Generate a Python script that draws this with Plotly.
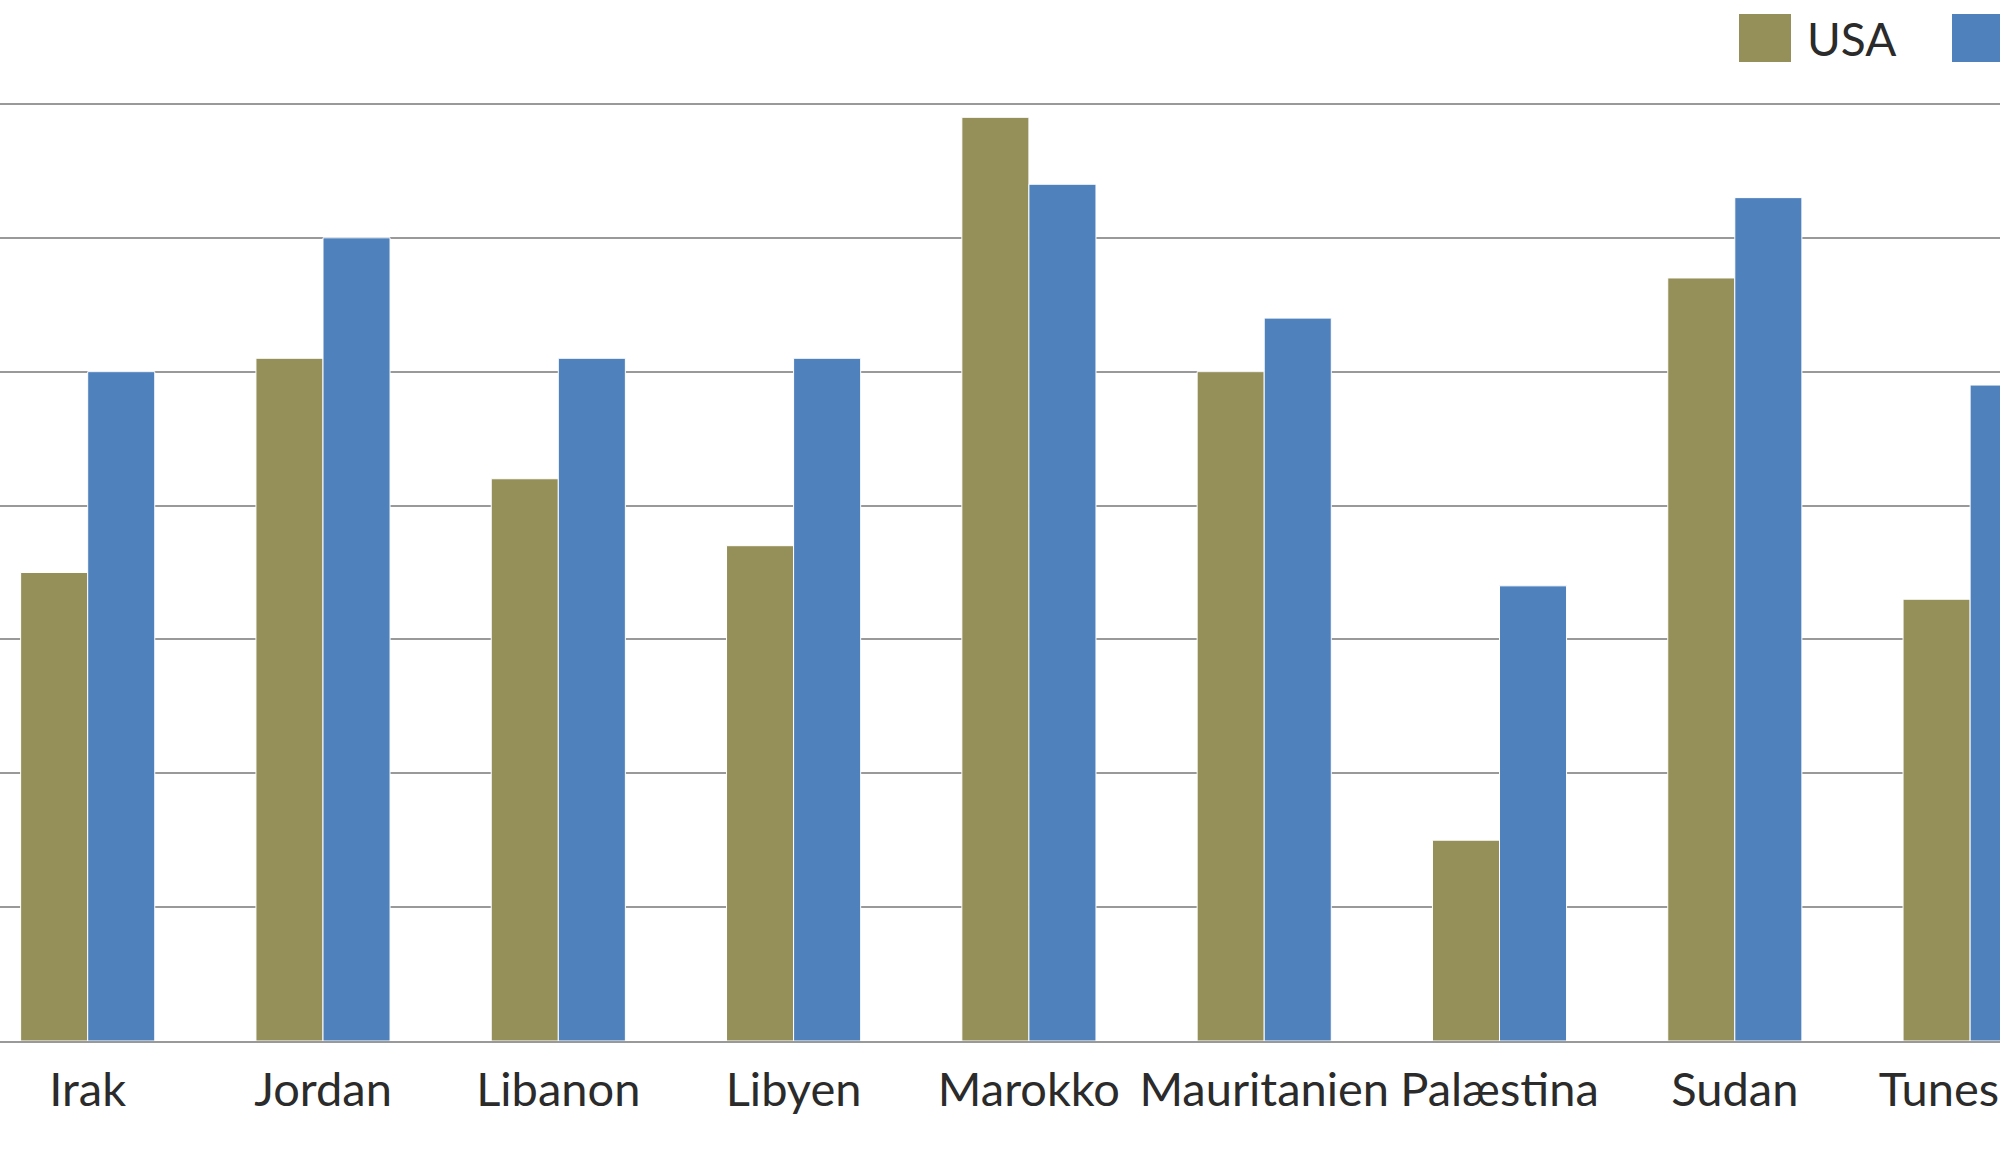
import plotly.graph_objects as go

categories = ["Irak", "Jordan", "Libanon", "Libyen", "Marokko", "Mauritanien", "Palæstina", "Sudan", "Tunesien"]
series_names = ["USA", "Kina"]
usa_values = [3.5, 5.1, 4.2, 3.7, 6.9, 5.0, 1.5, 5.7, 3.3]
other_values = [5.0, 6.0, 5.1, 5.1, 6.4, 5.4, 3.4, 6.3, 4.9]
colors = ["#958F5A", "#4F81BD"]

W, H = 2000, 1165
ML, MR, MT, MB = 0, 0, 37, 124
FONT = "Lato"

fig = go.Figure()
for name, vals, col in zip(series_names, [usa_values, other_values], colors):
    fig.add_trace(go.Bar(
        x=categories, y=vals, name=name,
        marker=dict(color=col, line=dict(color="white", width=1)),
        showlegend=False,
    ))

# custom legend (large square swatches as in the original)
plot_h = H - MT - MB
def px_to_paper_y(py):
    return (H - MB - py) / plot_h

legend_x = [1739, 1952]
for i, (name, col) in enumerate(zip(series_names, colors)):
    x0 = legend_x[i]
    fig.add_shape(type="rect", xref="paper", yref="paper",
                  x0=x0 / W, x1=(x0 + 52) / W,
                  y0=px_to_paper_y(62), y1=px_to_paper_y(14),
                  fillcolor=col, line=dict(width=0), layer="above")
    fig.add_annotation(xref="paper", yref="paper",
                       x=(x0 + 66) / W, y=px_to_paper_y(38),
                       xanchor="left", yanchor="middle", showarrow=False,
                       text=name, font=dict(family=FONT, size=46, color="#2b2b2b"))

fig.update_layout(
    width=W, height=H,
    margin=dict(l=ML, r=MR, t=MT, b=MB, pad=0, autoexpand=False),
    paper_bgcolor="white", plot_bgcolor="white",
    barmode="group", bargap=0.43, bargroupgap=0,
    font=dict(family=FONT, size=46, color="#2b2b2b"),
    showlegend=False,
)
fig.update_xaxes(range=[-0.3727, 8.127], automargin=False, showgrid=False, showline=True,
                 linecolor="#999999", linewidth=2, ticks="", ticklen=0,
                 ticklabelstandoff=7,
                 tickfont=dict(family=FONT, size=47, color="#2b2b2b"))
fig.update_yaxes(range=[0, 7.5], dtick=1, automargin=False, showgrid=True, gridcolor="#999999",
                 gridwidth=2, showticklabels=False, zeroline=False, showline=False,
                 ticks="")

fig.write_html("out.html", config={"displayModeBar": False},
               post_script="document.body.style.margin='0';document.body.style.overflow='hidden';")
